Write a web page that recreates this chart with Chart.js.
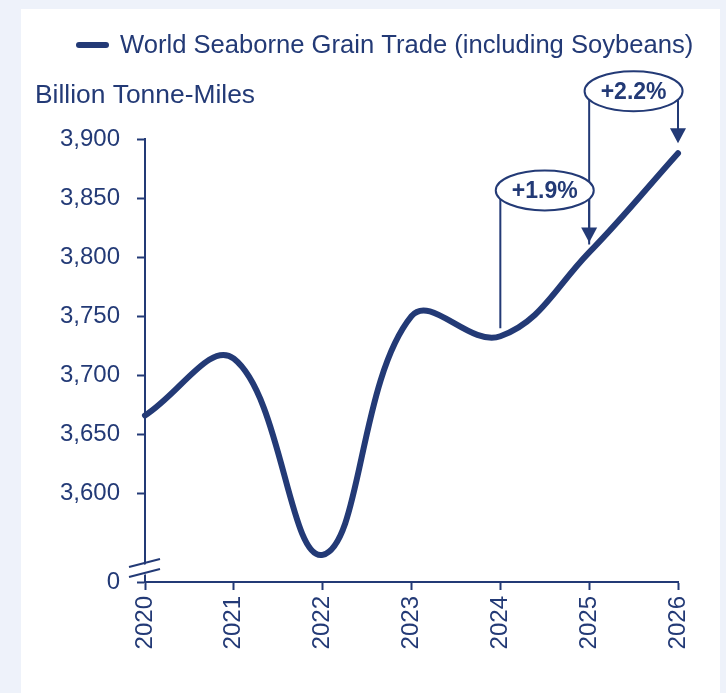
<!DOCTYPE html>
<html lang="en">
<head>
  <meta charset="UTF-8">
  <title>World Seaborne Grain Trade</title>
  <script src="https://cdn.jsdelivr.net/npm/chart.js"></script>
  <style>
    body {
      margin: 0;
      background: #eef2fa;
    }
    .wrap {
      position: relative;
      width: 726px;
      height: 693px;
    }
  </style>
</head>
<body>
  <div class="wrap"><canvas id="grainChart"></canvas></div>

  <script>
    const years = ['2020', '2021', '2022', '2023', '2024', '2025', '2026'];
    const tradeValues = [3666, 3714, 3548, 3750, 3733, 3804, 3888];
    const yTickValues = [3600, 3650, 3700, 3750, 3800, 3850, 3900];
    const breakValue = 3525;          // bottom of the broken axis, labelled 0
    const growthSteps = [[4, 5], [5, 6]]; // from-year / to-year index pairs

    const navy = '#233a76';
    const font = "'Liberation Sans', Arial, sans-serif";

    // panel, legend, axis title, axis break and growth callouts
    const decor = {
      id: 'decor',
      beforeDraw(chart) {
        const c = chart.ctx;
        c.save();
        c.fillStyle = '#ffffff';
        c.fillRect(21, 9, 699, 684);

        c.strokeStyle = navy;
        c.lineWidth = 6;
        c.lineCap = 'round';
        c.beginPath();
        c.moveTo(79, 45);
        c.lineTo(106, 45);
        c.stroke();

        c.fillStyle = navy;
        c.textBaseline = 'middle';
        c.textAlign = 'left';
        c.font = '25.6px ' + font;
        c.fillText('World Seaborne Grain Trade (including Soybeans)', 120, 46);
        c.font = '26.4px ' + font;
        c.fillText('Billion Tonne-Miles', 35, 96);
        c.restore();
      },
      afterDraw(chart) {
        const c = chart.ctx;
        const x = chart.scales.x, y = chart.scales.y;
        c.save();

        // axis break
        const ax = chart.chartArea.left;
        const yb = y.getPixelForValue(breakValue);
        c.fillStyle = '#ffffff';
        c.beginPath();
        c.moveTo(ax - 6, yb - 16);
        c.lineTo(ax + 6, yb - 19);
        c.lineTo(ax + 6, yb - 9);
        c.lineTo(ax - 6, yb - 6);
        c.closePath();
        c.fill();
        c.strokeStyle = navy;
        c.lineWidth = 2;
        [15, 5].forEach(off => {
          c.beginPath();
          c.moveTo(ax - 16, yb - off);
          c.lineTo(ax + 15, yb - off - 8);
          c.stroke();
        });

        // growth callouts
        const callouts = growthSteps.map(([a, b]) => {
          const x0 = x.getPixelForValue(a), x1 = x.getPixelForValue(b);
          const y0 = y.getPixelForValue(tradeValues[a]);
          const y1 = y.getPixelForValue(tradeValues[b]);
          const pct = (tradeValues[b] / tradeValues[a] - 1) * 100;
          return { x0, x1, y0, y1, cy: y1 - 62, label: '+' + pct.toFixed(1) + '%' };
        });

        c.strokeStyle = navy;
        c.lineWidth = 2;
        callouts.forEach(k => {
          c.beginPath();
          c.moveTo(k.x0, k.cy);
          c.lineTo(k.x0, k.y0 - 8);
          c.moveTo(k.x1, k.cy);
          c.lineTo(k.x1, k.y1 - 22);
          c.stroke();
        });

        callouts.forEach(k => {
          const cx = (k.x0 + k.x1) / 2;
          c.beginPath();
          c.ellipse(cx, k.cy, 49, 20, 0, 0, Math.PI * 2);
          c.fillStyle = '#ffffff';
          c.fill();
          c.stroke();
          c.fillStyle = navy;
          c.font = 'bold 23px ' + font;
          c.textAlign = 'center';
          c.textBaseline = 'middle';
          c.fillText(k.label, cx, k.cy + 1);
        });

        c.fillStyle = navy;
        callouts.forEach(k => {
          const tip = k.y1 - 10;
          c.beginPath();
          c.moveTo(k.x1 - 8, tip - 15);
          c.lineTo(k.x1 + 8, tip - 15);
          c.lineTo(k.x1, tip);
          c.closePath();
          c.fill();
        });
        c.restore();
      }
    };

    new Chart(document.getElementById('grainChart'), {
      type: 'line',
      data: {
        labels: years,
        datasets: [{
          label: 'World Seaborne Grain Trade (including Soybeans)',
          data: tradeValues,
          borderColor: navy,
          borderWidth: 6,
          borderCapStyle: 'round',
          pointRadius: 0,
          tension: 0.4,
          fill: false,
          clip: false
        }]
      },
      options: {
        responsive: true,
        maintainAspectRatio: false,
        animation: false,
        layout: { padding: { top: 139, right: 48, bottom: 0, left: 0 } },
        plugins: {
          legend: { display: false },
          tooltip: { enabled: false }
        },
        scales: {
          x: {
            offset: false,
            afterFit(scale) { scale.height = 111; },
            grid: {
              drawOnChartArea: false,
              drawTicks: true,
              tickLength: 8,
              tickWidth: 2,
              color: navy
            },
            border: { color: navy, width: 2 },
            ticks: {
              color: navy,
              font: { family: font, size: 24 },
              minRotation: 90,
              maxRotation: 90,
              padding: 6
            }
          },
          y: {
            min: breakValue,
            max: 3900,
            afterFit(scale) { scale.width = 145; },
            afterBuildTicks(scale) {
              scale.ticks = [breakValue].concat(yTickValues).map(v => ({ value: v }));
            },
            grid: {
              drawOnChartArea: false,
              drawTicks: true,
              tickLength: 8,
              tickWidth: 2,
              color: navy
            },
            border: { color: navy, width: 2 },
            ticks: {
              color: navy,
              font: { family: font, size: 24 },
              padding: 17,
              callback: v => v === breakValue ? '0' : v.toLocaleString('en-US')
            }
          }
        }
      },
      plugins: [decor]
    });
  </script>
</body>
</html>
